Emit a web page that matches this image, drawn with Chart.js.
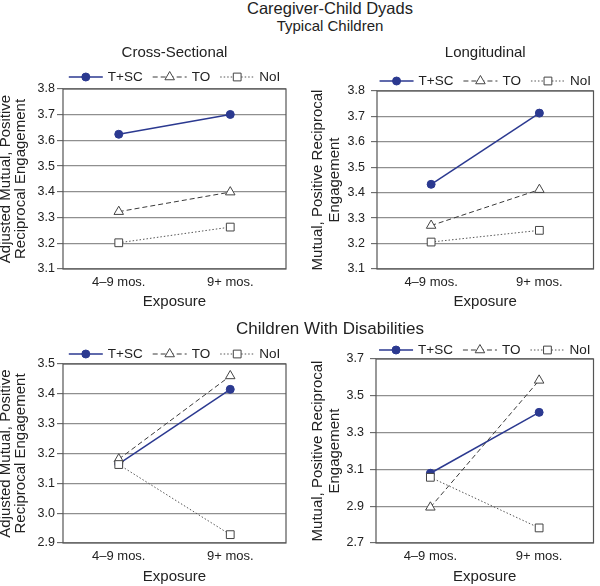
<!DOCTYPE html>
<html>
<head>
<meta charset="utf-8">
<script src="https://cdn.jsdelivr.net/npm/chart.js@4/dist/chart.umd.min.js"></script>
<style>
  body { margin: 0; background: #fff; font-family: "Liberation Sans", Arial, sans-serif; color: #222; }
  #wrap { position: relative; width: 600px; height: 586px; overflow: hidden; }
  canvas { position: absolute; }
  .head { position: absolute; left: 180px; width: 300px; text-align: center; line-height: 1; z-index: 2; white-space: nowrap; }
</style>
</head>
<body>
<div id="wrap">
  <div class="head" style="top:0px;font-size:16.5px">Caregiver-Child Dyads</div>
  <div class="head" style="top:18px;font-size:15px">Typical Children</div>
  <div class="head" style="top:320px;font-size:17px">Children With Disabilities</div>
  <canvas id="cross" width="300" height="275" style="left:0;top:36px"></canvas>
  <canvas id="long" width="300" height="275" style="left:300px;top:36px"></canvas>
  <canvas id="disCross" width="300" height="275" style="left:0;top:311px"></canvas>
  <canvas id="disLong" width="300" height="275" style="left:300px;top:311px"></canvas>
</div>
<script>
const categories = ['4–9 mos.', '9+ mos.'];
const seriesNames = ['T+SC', 'TO', 'NoI'];

// typical children, cross-sectional
const crossTSC = [3.624, 3.701];
const crossTO = [3.323, 3.399];
const crossNoI = [3.202, 3.263];

// typical children, longitudinal
const longTSC = [3.433, 3.713];
const longTO = [3.271, 3.412];
const longNoI = [3.206, 3.252];

// children with disabilities, cross-sectional
const disCrossTSC = [3.165, 3.415];
const disCrossTO = [3.181, 3.46];
const disCrossNoI = [3.163, 2.928];

// children with disabilities, longitudinal
const disLongTSC = [3.079, 3.41];
const disLongTO = [2.894, 3.584];
const disLongNoI = [3.057, 2.782];

const ticksTypical = [3.1, 3.2, 3.3, 3.4, 3.5, 3.6, 3.7, 3.8];
const ticksDisCross = [2.9, 3.0, 3.1, 3.2, 3.3, 3.4, 3.5];
const ticksDisLong = [2.7, 2.9, 3.1, 3.3, 3.5, 3.7];

const titleAdjusted = ['Adjusted Mutual, Positive', 'Reciprocal Engagement'];
const titleMutual = ['Mutual, Positive Reciprocal', 'Engagement'];

const FONT = '"Liberation Sans", Arial, sans-serif';
const NAVY = '#2b3990';

const frameBox = {
  id: 'frameBox',
  beforeDatasetsDraw(chart) {
    const { ctx, chartArea: { left, top, width, height } } = chart;
    ctx.save();
    ctx.strokeStyle = '#555';
    ctx.lineWidth = 1.2;
    ctx.strokeRect(left, top, width, height);
    ctx.restore();
  },
};

// panel heading and the line+marker legend above each plot
const panelDecor = {
  id: 'panelDecor',
  afterDraw(chart, args, opts) {
    const { ctx, chartArea: { left, right } } = chart;
    const cx = (left + right) / 2;
    ctx.save();
    ctx.fillStyle = '#222';
    ctx.textBaseline = 'middle';
    if (opts.title) {
      ctx.font = `15px ${FONT}`;
      ctx.textAlign = 'center';
      ctx.fillText(opts.title, cx, opts.titleY);
    }
    ctx.font = `13.5px ${FONT}`;
    ctx.textAlign = 'left';
    const symW = 34, gap = 5, space = 10;
    const sets = chart.data.datasets;
    const widths = sets.map((ds) => symW + gap + ctx.measureText(ds.label).width);
    const total = widths.reduce((a, b) => a + b, 0) + space * (sets.length - 1);
    let x = cx - total / 2;
    const y = opts.legendY;
    sets.forEach((ds, i) => {
      ctx.strokeStyle = ds.borderColor;
      ctx.lineWidth = ds.borderWidth;
      ctx.setLineDash(ds.borderDash || []);
      ctx.beginPath();
      ctx.moveTo(x, y);
      ctx.lineTo(x + symW, y);
      ctx.stroke();
      ctx.setLineDash([]);
      ctx.fillStyle = ds.pointBackgroundColor;
      ctx.strokeStyle = ds.pointBorderColor;
      ctx.lineWidth = ds.pointBorderWidth;
      Chart.helpers.drawPoint(ctx, {
        pointStyle: ds.pointStyle,
        radius: ds.pointRadius,
        rotation: 0,
        borderWidth: ds.pointBorderWidth,
      }, x + symW / 2, y);
      ctx.fillStyle = '#222';
      ctx.fillText(ds.label, x + symW + gap, y);
      x += widths[i] + space;
    });
    ctx.restore();
  },
};

const makeDatasets = (tsc, to, noi) => [
  {
    label: seriesNames[0],
    data: tsc,
    borderColor: NAVY,
    borderWidth: 1.5,
    pointStyle: 'circle',
    pointRadius: 4,
    pointBackgroundColor: NAVY,
    pointBorderColor: NAVY,
    pointBorderWidth: 1,
    order: 3,
  },
  {
    label: seriesNames[1],
    data: to,
    borderColor: '#3a3a3a',
    borderWidth: 1,
    borderDash: [5, 3],
    pointStyle: 'triangle',
    pointRadius: 5.5,
    pointBackgroundColor: '#fff',
    pointBorderColor: '#444',
    pointBorderWidth: 1,
    order: 2,
  },
  {
    label: seriesNames[2],
    data: noi,
    borderColor: '#555',
    borderWidth: 1,
    borderDash: [1.5, 2],
    pointStyle: 'rect',
    pointRadius: 5.5,
    pointBackgroundColor: '#fff',
    pointBorderColor: '#444',
    pointBorderWidth: 1,
    order: 1,
  },
];

const makePanel = (id, datasets, p) => {
  new Chart(document.getElementById(id), {
    type: 'line',
    plugins: [frameBox, panelDecor],
    data: { labels: categories, datasets },
    options: {
      responsive: false,
      animation: false,
      devicePixelRatio: 1,
      layout: { padding: { top: p.padTop, right: p.padRight, left: 0, bottom: 0 } },
      elements: { line: { tension: 0 } },
      plugins: {
        legend: { display: false },
        tooltip: { enabled: false },
        panelDecor: { title: p.title, titleY: p.titleY, legendY: p.legendY },
      },
      scales: {
        x: {
          offset: true,
          grid: { display: false, drawTicks: false },
          border: { display: false },
          ticks: { padding: 6, color: '#222', font: { size: 13, family: FONT } },
          title: {
            display: true,
            text: 'Exposure',
            color: '#222',
            padding: 0,
            font: { size: 15, family: FONT },
          },
          afterFit(scale) { scale.height = p.xHeight; },
        },
        y: {
          min: p.ticks[0],
          max: p.ticks[p.ticks.length - 1],
          afterBuildTicks(scale) { scale.ticks = p.ticks.map((v) => ({ value: v })); },
          grid: { color: '#8f8f8f', lineWidth: 1.3, tickLength: 6, tickColor: '#555', tickWidth: 1 },
          border: { display: false },
          ticks: {
            padding: p.tickPad,
            color: '#222',
            font: { size: 12.5, family: FONT },
            callback: (v) => Number(v).toFixed(1),
          },
          title: {
            display: true,
            text: p.yTitle,
            color: '#222',
            padding: { top: p.yTitlePad, bottom: 0 },
            font: { size: 15, family: FONT, lineHeight: p.yLine },
          },
          afterFit(scale) { scale.width = p.yWidth; },
        },
      },
    },
  });
};

makePanel('cross', makeDatasets(crossTSC, crossTO, crossNoI), {
  title: 'Cross-Sectional', titleY: 16.5, legendY: 41,
  padTop: 53, padRight: 14, xHeight: 42, yWidth: 63, tickPad: 2,
  ticks: ticksTypical, yTitle: titleAdjusted, yTitlePad: -2, yLine: '15.5px',
});
makePanel('long', makeDatasets(longTSC, longTO, longNoI), {
  title: 'Longitudinal', titleY: 17, legendY: 45,
  padTop: 55, padRight: 2, xHeight: 42, yWidth: 77, tickPad: 6,
  ticks: ticksTypical, yTitle: titleMutual, yTitlePad: 9, yLine: '17px',
});
makePanel('disCross', makeDatasets(disCrossTSC, disCrossTO, disCrossNoI), {
  title: '', titleY: 0, legendY: 43,
  padTop: 53, padRight: 14, xHeight: 43, yWidth: 63, tickPad: 2,
  ticks: ticksDisCross, yTitle: titleAdjusted, yTitlePad: -2, yLine: '15.5px',
});
makePanel('disLong', makeDatasets(disLongTSC, disLongTO, disLongNoI), {
  title: '', titleY: 0, legendY: 39,
  padTop: 48, padRight: 3, xHeight: 43, yWidth: 76, tickPad: 6,
  ticks: ticksDisLong, yTitle: titleMutual, yTitlePad: 9, yLine: '17px',
});
</script>
</body>
</html>
